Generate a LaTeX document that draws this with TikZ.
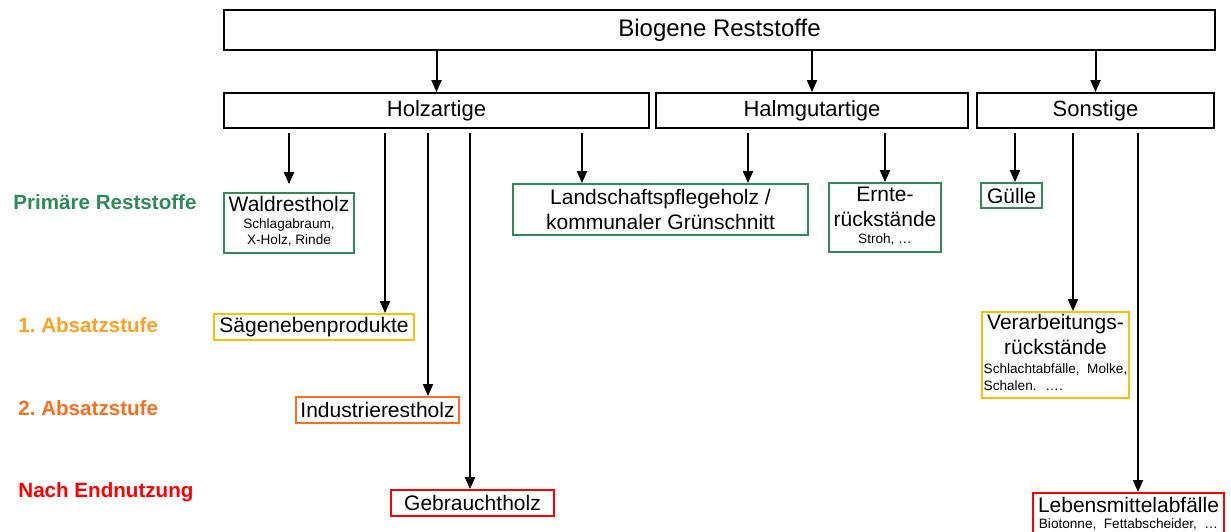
\documentclass[tikz,border=0pt]{standalone}
\usepackage{fontspec}
\setmainfont{Liberation Sans}
\usetikzlibrary{arrows.meta, positioning}
\definecolor{gruen}{RGB}{46,139,87}
\definecolor{gelb}{RGB}{255,192,0}
\definecolor{orangeeins}{RGB}{255,160,30}
\definecolor{orangezwei}{RGB}{250,110,30}
\definecolor{rot}{RGB}{255,0,0}
\newcommand{\klein}{\fontsize{6.8}{8.2}\selectfont}

\begin{document}
\begin{tikzpicture}[x=0.5pt,y=-0.5pt]
\tikzset{
  mass/.style 2 args={minimum width={#1*0.5pt}, minimum height={#2*0.5pt}},
  kasten/.style={draw, line width=0.9pt, inner sep=0pt, align=center},
  oben/.style={kasten, font=\fontsize{12}{14}\selectfont},
  gruppe/.style={kasten, font=\fontsize{11}{13}\selectfont},
  blatt/.style={kasten, font=\fontsize{10.5}{12.5}\selectfont},
  primaer/.style={blatt, draw=gruen},
  stufeeins/.style={blatt, draw=gelb},
  stufezwei/.style={blatt, draw=orangezwei},
  endnutz/.style={blatt, draw=rot},
  ebene/.style={anchor=west, inner xsep=0pt, font=\fontsize{10.3}{12}\selectfont\bfseries},
  pfeil/.style={line width=1pt, -{Triangle[length=6pt,width=5pt]}}
}

\useasboundingbox (0,0) rectangle (1231,531);

\node[oben, mass={991}{40}] (biogen) at (719.5,30) {Biogene Reststoffe};
\node[gruppe, mass={425}{35}] (holz) at (436.5,110.5) {Holzartige};
\node[gruppe, mass={312}{35}] (halm) at (812,110.5) {Halmgutartige};
\node[gruppe, mass={237}{35}] (sonst) at (1095.5,110.5) {Sonstige};

\node[primaer, mass={130}{60}] (wald) at (289,223) {Waldrestholz\\[-4pt]\klein\begin{tabular}[t]{@{}c@{}}Schlagabraum,\\X-Holz, Rinde\end{tabular}};
\node[primaer, mass={295}{51}] (land) at (660.5,209.5) {Landschaftspflegeholz /\\kommunaler Grünschnitt};
\node[primaer, mass={112}{69}] (ernte) at (885,217.5) {Ernte-\\rückstände\\[-4pt]\klein\begin{tabular}[t]{@{}c@{}}Stroh, …\end{tabular}};
\node[primaer, mass={61}{25}] (guelle) at (1011.5,195.5) {Gülle};
\node[stufeeins, mass={200}{26}] (saege) at (314,327) {Sägenebenprodukte};
\node[stufeeins, mass={147}{86}] (verarb) at (1055.5,355) {Verarbeitungs-\\rückstände\\[-3pt]\klein\begin{tabular}[t]{@{}l@{}}Schlachtabfälle,~ Molke,\\Schalen.~ ….\end{tabular}};
\node[stufezwei, mass={163}{26}] (indus) at (377.5,410) {Industrierestholz};
\node[endnutz, mass={163}{26}] (gebr) at (472.5,503) {Gebrauchtholz};
\node[endnutz, mass={191}{0}, anchor=north, inner ysep=2pt] (lebens) at (1128.5,492) {Lebensmittelabfälle\\[-4.5pt]\klein\begin{tabular}[t]{@{}c@{}}Biotonne,~ Fettabscheider,~ …\end{tabular}\rule[-14pt]{0pt}{0pt}};

\node[ebene, text=gruen] (lprim) at (13,202) {Primäre Reststoffe};
\node[ebene, text=orangeeins] (leins) at (18,325) {1.\ Absatzstufe};
\node[ebene, text=orangezwei] (lzwei) at (18,408) {2.\ Absatzstufe};
\node[ebene, text=rot] (lend) at (18,492) {Nach Endnutzung};

\coordinate (h1) at (289,133);
\coordinate (h2) at (385,133);
\coordinate (h3) at (428,133);
\coordinate (h4) at (470,133);
\coordinate (h5) at (582,133);
\coordinate (g1) at (748,133);
\coordinate (g2) at (885,133);
\coordinate (s1) at (1015,133);
\coordinate (s2) at (1073,133);
\coordinate (s3) at (1138,133);

\draw[pfeil] (biogen.south -| holz.north) -- (holz.north);
\draw[pfeil] (biogen.south -| halm.north) -- (halm.north);
\draw[pfeil] (biogen.south -| sonst.north) -- (sonst.north);

\draw[pfeil, shorten >=4pt] (h1) -- (h1 |- wald.north);
\draw[pfeil] (h2) -- (h2 |- saege.north);
\draw[pfeil] (h3) -- (h3 |- indus.north);
\draw[pfeil] (h4) -- (h4 |- gebr.north);
\draw[pfeil] (h5) -- (h5 |- land.north);
\draw[pfeil] (g1) -- (g1 |- land.north);
\draw[pfeil] (g2) -- (g2 |- ernte.north);
\draw[pfeil] (s1) -- (s1 |- guelle.north);
\draw[pfeil] (s2) -- (s2 |- verarb.north);
\draw[pfeil] (s3) -- (s3 |- lebens.north);
\end{tikzpicture}
\end{document}
